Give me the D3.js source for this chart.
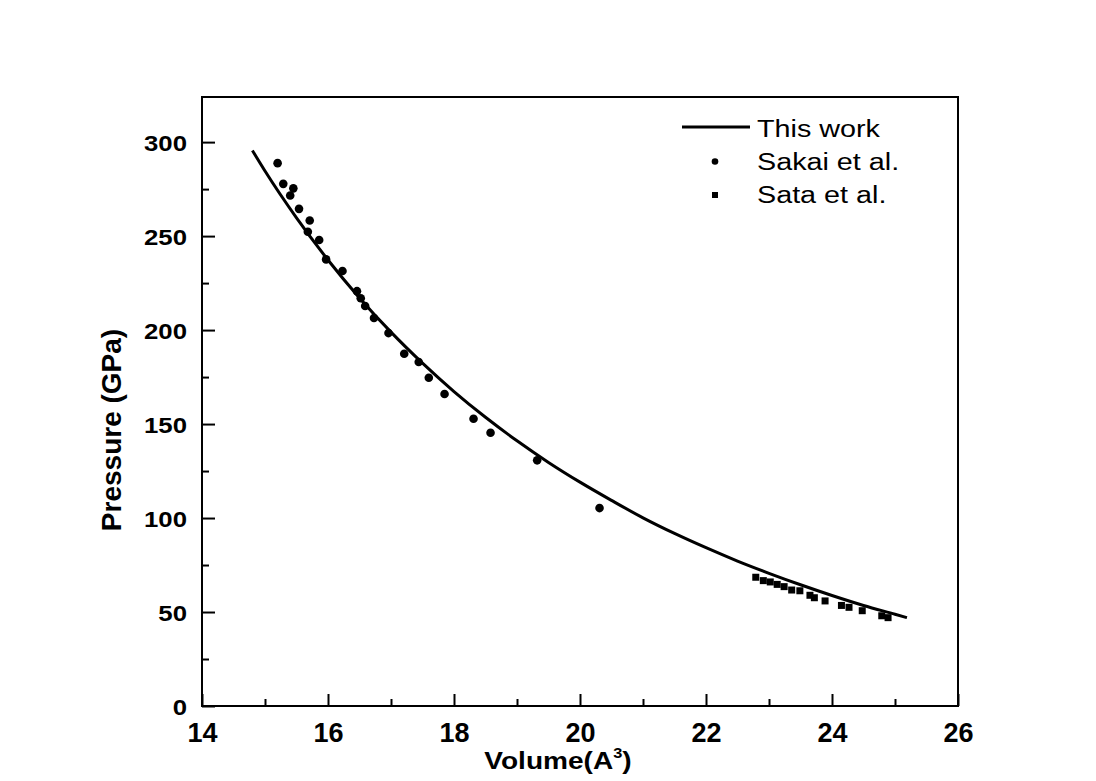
<!DOCTYPE html>
<html>
<head>
<meta charset="utf-8">
<script src="https://cdn.jsdelivr.net/npm/d3@7"></script>
<style>
  html, body { margin: 0; padding: 0; background: #ffffff; }
  svg { display: block; }
  text { font-family: "Liberation Sans", Arial, sans-serif; fill: #000; }
</style>
</head>
<body>
<svg id="chart" width="1096" height="781"></svg>
<script>
// Equation-of-state curve (volume in A^3, pressure in GPa)
const curveVolume = [14.8, 15.0, 15.5, 16.0, 16.5, 17.0, 17.5, 18.0, 18.5, 19.0, 19.5, 20.0,
                     20.5, 21.0, 21.5, 22.0, 22.5, 23.0, 23.5, 24.0, 24.5, 25.0, 25.19];
const curvePressure = [295.5, 284.6, 259.7, 237.3, 217.1, 198.9, 182.4, 167.3, 153.6, 141.1, 129.6, 119.1,
                       109.4, 100.1, 91.8, 84.2, 77.1, 70.6, 64.5, 58.8, 53.5, 48.8, 47.0];

// Sakai et al. measurements
const sakaiVolume = [15.20, 15.29, 15.45, 15.40, 15.54, 15.71, 15.68, 15.86, 15.97, 16.23, 16.46, 16.52,
                     16.59, 16.73, 16.96, 17.21, 17.44, 17.60, 17.85, 18.31, 18.58, 19.32, 20.31];
const sakaiPressure = [288.8, 277.8, 275.4, 271.6, 264.5, 258.3, 252.3, 247.9, 237.6, 231.4, 220.7, 216.9,
                       212.8, 206.4, 198.4, 187.4, 183.0, 174.6, 166.0, 152.8, 145.4, 130.7, 105.3];

// Sata et al. measurements
const sataVolume = [22.79, 22.91, 23.02, 23.13, 23.24, 23.36, 23.49, 23.65, 23.72, 23.89, 24.15, 24.27,
                    24.48, 24.79, 24.89];
const sataPressure = [68.5, 66.7, 66.0, 64.7, 63.5, 61.7, 61.3, 58.9, 57.6, 55.9, 53.5, 52.5,
                      50.7, 48.0, 47.0];

// Axis ticks
const xMajorTicks = [14, 16, 18, 20, 22, 24, 26];
const xMinorTicks = [15, 17, 19, 21, 23, 25];
const yMajorTicks = [0, 50, 100, 150, 200, 250, 300];
const yMinorTicks = [25, 75, 125, 175, 225, 275];

const legendLabels = ["This work", "Sakai et al.", "Sata et al."];

const svg = d3.select("#chart");
const plot = { left: 202, right: 958, top: 97, bottom: 706 };

const x = d3.scaleLinear().domain([14, 26]).range([plot.left, plot.right]);
const y = d3.scaleLinear().domain([0, 324]).range([plot.bottom, plot.top]);

svg.append("rect").attr("width", 1096).attr("height", 781).attr("fill", "#fff");

// Bottom axis: inward ticks
const gx = svg.append("g").attr("transform", `translate(0,${plot.bottom})`);
gx.call(d3.axisBottom(x).tickValues(xMajorTicks).tickSizeInner(-12).tickSizeOuter(0)
          .tickFormat(d3.format("d")));
gx.append("g").call(d3.axisBottom(x).tickValues(xMinorTicks).tickSizeInner(-7).tickSizeOuter(0)
          .tickFormat(""));
gx.selectAll(".domain").remove();
gx.selectAll("line").attr("stroke", "#000").attr("stroke-width", 2);
gx.selectAll("text")
  .attr("y", 36).attr("dy", null)
  .style("font-size", "27px").style("font-weight", "bold");

// Left axis: inward ticks
const gy = svg.append("g").attr("transform", `translate(${plot.left},0)`);
gy.call(d3.axisLeft(y).tickValues(yMajorTicks).tickSizeInner(-13).tickSizeOuter(0)
          .tickFormat(d3.format("d")));
gy.append("g").call(d3.axisLeft(y).tickValues(yMinorTicks).tickSizeInner(-7).tickSizeOuter(0)
          .tickFormat(""));
gy.selectAll(".domain").remove();
gy.selectAll("line").attr("stroke", "#000").attr("stroke-width", 2);
gy.selectAll("text")
  .attr("x", -13.4).attr("dy", null).attr("y", 8)
  .attr("text-anchor", "end")
  .attr("transform", "scale(1.12,1)")
  .style("font-size", "23px").style("font-weight", "bold");

// Frame
svg.append("rect")
  .attr("x", plot.left).attr("y", plot.top)
  .attr("width", plot.right - plot.left).attr("height", plot.bottom - plot.top)
  .attr("fill", "none").attr("stroke", "#000").attr("stroke-width", 2);

// Curve
const curvePts = curveVolume.map((v, i) => [v, curvePressure[i]]);
svg.append("path")
  .datum(curvePts)
  .attr("fill", "none").attr("stroke", "#000").attr("stroke-width", 3)
  .attr("d", d3.line().x(d => x(d[0])).y(d => y(d[1])).curve(d3.curveMonotoneX));

// Sakai circles
svg.append("g").selectAll("circle")
  .data(sakaiVolume.map((v, i) => [v, sakaiPressure[i]]))
  .join("circle")
  .attr("cx", d => x(d[0])).attr("cy", d => y(d[1])).attr("r", 4.3).attr("fill", "#000");

// Sata squares
const sq = 7;
svg.append("g").selectAll("rect")
  .data(sataVolume.map((v, i) => [v, sataPressure[i]]))
  .join("rect")
  .attr("x", d => x(d[0]) - sq / 2).attr("y", d => y(d[1]) - sq / 2)
  .attr("width", sq).attr("height", sq).attr("fill", "#000");

// Axis titles
svg.append("text")
  .attr("transform", "translate(121,430) rotate(-90)")
  .attr("text-anchor", "middle")
  .style("font-size", "28px").style("font-weight", "bold")
  .text("Pressure (GPa)");

const xt = svg.append("text")
  .attr("transform", "translate(558,769) scale(1.17,1)")
  .attr("text-anchor", "middle")
  .style("font-size", "24px").style("font-weight", "bold");
xt.append("tspan").text("Volume(A");
xt.append("tspan").attr("dy", -11).style("font-size", "14px").text("3");
xt.append("tspan").attr("dy", 11).text(")");

// Legend
const legend = svg.append("g");
legend.append("line")
  .attr("x1", 682).attr("x2", 750).attr("y1", 127).attr("y2", 127)
  .attr("stroke", "#000").attr("stroke-width", 3);
legend.append("circle").attr("cx", 715).attr("cy", 161.5).attr("r", 3.3).attr("fill", "#000");
legend.append("rect").attr("x", 712).attr("y", 192).attr("width", 6).attr("height", 6).attr("fill", "#000");
const legendBaselines = [136.5, 170, 203];
legend.selectAll("text")
  .data(legendLabels)
  .join("text")
  .attr("transform", (d, i) => `translate(757,${legendBaselines[i]}) scale(1.25,1)`)
  .style("font-size", "23px")
  .text(d => d);
</script>
</body>
</html>
